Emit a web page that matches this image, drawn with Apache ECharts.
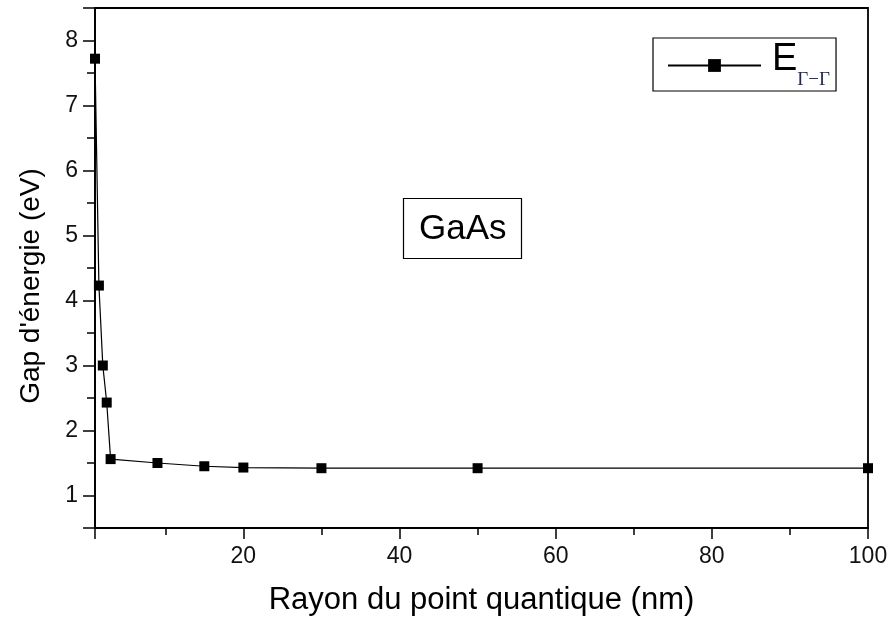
<!DOCTYPE html>
<html>
<head>
<meta charset="utf-8">
<script src="https://cdn.jsdelivr.net/npm/echarts@6/dist/echarts.min.js"></script>
<style>
  html, body { margin: 0; padding: 0; background: #fff; }
  #chart { width: 893px; height: 619px; }
</style>
</head>
<body>
<div id="chart"></div>
<script>
// rayon du point quantique (nm) et gap d'énergie (eV)
const rayon = [1, 1.5, 2, 2.5, 3, 9, 15, 20, 30, 50, 100];
const gap = [7.72, 4.23, 3.0, 2.43, 1.56, 1.50, 1.45, 1.43, 1.42, 1.42, 1.42];
const xLabels = [20, 40, 60, 80, 100];
const yLabels = [1, 2, 3, 4, 5, 6, 7, 8];

const chart = echarts.init(document.getElementById("chart"));

const font = "Liberation Sans, Arial, sans-serif";

const option = {
  backgroundColor: "#fff",
  animation: false,
  title: {
    text: "GaAs",
    left: 403,
    top: 198,
    padding: [14, 15, 12, 16],
    borderColor: "#000",
    borderWidth: 1.2,
    textStyle: { fontFamily: font, fontSize: 35, fontWeight: "normal", color: "#000" },
  },
  legend: {
    left: 653,
    top: 38,
    orient: "vertical",
    padding: [3, 6, 1, 14],
    borderColor: "#000",
    borderWidth: 1.2,
    itemWidth: 93,
    itemHeight: 16,
    itemGap: 0,
    data: ["E"],
    formatter: () => "{e|E}{s|Γ−Γ}",
    textStyle: {
      rich: {
        e: { fontFamily: font, fontSize: 38, color: "#000", verticalAlign: "top", lineHeight: 44, padding: [0, 0, 0, 6] },
        s: { fontFamily: "Liberation Serif, serif", fontSize: 19, color: "#1d2857", verticalAlign: "top", padding: [30, 0, 0, 0] },
      },
    },
  },
  grid: {
    left: 95,
    right: 25,
    top: 8,
    bottom: 91,
    outerBoundsMode: "none",
    show: true,
    borderColor: "#000",
    borderWidth: 1.8,
  },
  xAxis: {
    type: "value",
    min: 1,
    max: 100,
    splitNumber: 5,
    name: "Rayon du point quantique (nm)",
    nameLocation: "middle",
    nameGap: 57,
    nameTextStyle: { fontFamily: font, fontSize: 31, color: "#000" },
    axisLine: { lineStyle: { color: "#000", width: 1.8 } },
    axisTick: { length: 11, lineStyle: { color: "#000", width: 1.5 } },
    minorTick: { show: true, splitNumber: 2, length: 7, lineStyle: { color: "#000", width: 1.5 } },
    splitLine: { show: false },
    axisLabel: {
      fontFamily: font,
      fontSize: 23,
      color: "#111",
      margin: 17,
      formatter: (v) => (xLabels.includes(v) ? String(v) : ""),
    },
  },
  yAxis: {
    type: "value",
    min: 0.5,
    max: 8.5,
    splitNumber: 8,
    name: "Gap d'énergie (eV)",
    nameLocation: "middle",
    nameGap: 50,
    nameTextStyle: { fontFamily: font, fontSize: 28, color: "#000", padding: [0, 36, 0, 0] },
    axisLine: { lineStyle: { color: "#000", width: 1.8 } },
    axisTick: { length: 12, lineStyle: { color: "#000", width: 1.5 } },
    minorTick: { show: true, splitNumber: 2, length: 8, lineStyle: { color: "#000", width: 1.5 } },
    splitLine: { show: false },
    axisLabel: {
      fontFamily: font,
      fontSize: 23,
      color: "#111",
      margin: 17,
      formatter: (v) => (yLabels.includes(v) ? String(v) : ""),
    },
  },
  series: [
    {
      name: "E",
      type: "line",
      data: rayon.map((r, i) => [r, gap[i]]),
      symbol: "rect",
      symbolSize: 10,
      lineStyle: { color: "#000", width: 1.2 },
      itemStyle: { color: "#000" },
    },
  ],
};

chart.setOption(option);
</script>
</body>
</html>
